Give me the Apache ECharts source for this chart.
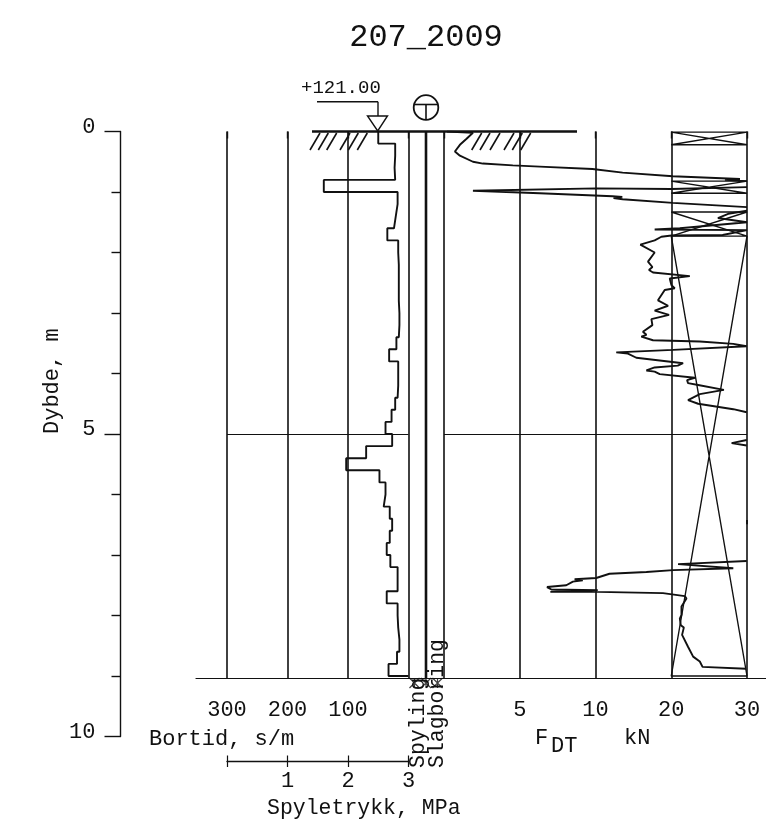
<!DOCTYPE html>
<html><head><meta charset="utf-8">
<style>html,body{margin:0;padding:0;background:#fff}#c{width:766px;height:837px}</style>
<script src="https://cdn.jsdelivr.net/npm/echarts@6/dist/echarts.min.js"></script>
</head><body><div id="c"></div>
<script>
// Bortid: boundaries of the 0.2 m intervals (m) and time per interval (s/m)
const bortidDepth = [0,0.2,0.4,0.6,0.8,1.0,1.2,1.4,1.6,1.8,2.0,2.2,2.4,2.6,2.8,3.0,3.2,3.4,3.6,3.8,4.0,4.2,4.4,4.6,4.8,5.0,5.2,5.4,5.6,5.8,6.0,6.2,6.4,6.6,6.8,7.0,7.2,7.4,7.6,7.8,8.0,8.2,8.4,8.6,8.8,9.0];
const bortidValues = [50,22,23,22,140,18,21,24,35,17,16,16,16,16,15,15,16,20,32,17,17,18,22,28,38,27,70,103,48,38,41,31,27,31,36,30,18,18,36,18,17,15,15,19,33];
// FDT curve: force (kN) and depth (m); null = off the 30 kN scale
const fdtForce = [0.2,1.91,1.49,1.05,0.72,1.05,1.91,2.57,4.54,6.32,9.8,13.58,20.2,29.07,27.09,30,null,
 30,20.03,10.13,1.91,1.91,6.32,12.25,13.54,12.38,13.58,20.2,30,null,
 30,27.52,26.16,30,21.13,17.81,30,26.78,20.03,18.7,17.81,15.92,17.81,16.93,17.51,17.06,17.59,22.45,19.8,20.03,20.46,19.14,18.25,19.58,17.81,19.71,17.38,17.51,16.26,16.72,16.05,17.59,23.77,28.19,29.96,20.24,12.74,14.28,15.39,21.56,20.86,17.81,16.72,17.81,18.48,23.11,22.09,22.22,23.55,23.77,26.95,23.77,22.22,23.55,28.19,29.96,null,
 29.96,27.97,29.96,null,
 30,29.74,30,null,
 29.96,20.9,28.19,20.24,16.72,11.85,10.09,8.62,9.16,8.51,8.07,6.8,7.09,10.3,7.02,10.3,18.91,21.79,22.01,21.35,21.35,21.13,21.26,21.66,21.43,22.23,22.89,23.77,24.13,29.87];
const fdtDepth = [0,0.02,0.12,0.22,0.33,0.40,0.50,0.53,0.56,0.58,0.62,0.68,0.74,0.785,0.80,0.82,null,
 0.92,0.95,0.94,0.98,0.99,1.02,1.07,1.08,1.10,1.12,1.18,1.25,null,
 1.31,1.36,1.43,1.50,1.60,1.62,1.63,1.71,1.72,1.74,1.80,1.87,2.00,2.15,2.24,2.29,2.33,2.39,2.43,2.54,2.59,2.62,2.79,2.88,2.96,3.03,3.10,3.20,3.31,3.36,3.39,3.45,3.47,3.51,3.55,3.61,3.65,3.67,3.74,3.83,3.87,3.90,3.95,3.97,4.01,4.07,4.11,4.16,4.19,4.22,4.27,4.34,4.44,4.50,4.59,4.64,null,
 5.10,5.15,5.19,null,
 6.42,6.45,6.49,null,
 7.10,7.15,7.22,7.25,7.28,7.31,7.38,7.40,7.42,7.44,7.50,7.53,7.57,7.58,7.61,7.61,7.63,7.68,7.72,7.85,7.99,8.05,8.16,8.20,8.32,8.52,8.68,8.76,8.85,8.88];
// Layer boxes with crosses (top, bottom depth in m) and force span in kN
const layerTop = [0.01,0.82,1.33,1.73];
const layerBottom = [0.22,1.02,1.73,9.0];
const layerForce = [20,30];
const forceTicks = [0,5,10,20,30];
const pressureTicks = [0,1,2,3];
const bortidTicks = [300,200,100,0];
const holeEnd = 9.033;
const FONT = '"Liberation Mono"';
const INK = '#111';

// The force axis has a broken scale: 0-10 kN takes the same length as 10-30 kN.
const fScale = k => k == null ? null : (k <= 10 ? k : 10 + (k - 10) / 2);

const bortidPts = [];
bortidValues.forEach((v, i) => { bortidPts.push([v, bortidDepth[i]], [v, bortidDepth[i + 1]]); });
bortidPts.push([0, bortidDepth[bortidDepth.length - 1]]);
const fdtPts = fdtForce.map((k, i) => [fScale(k), fdtDepth[i]]);
const layerPts = [];
layerTop.forEach((t, i) => {
  const a = fScale(layerForce[0]), b = fScale(layerForce[1]), e = layerBottom[i];
  layerPts.push([a, t], [b, t], [a, e], [b, e], [a, t], [null, null]);
});

const chart = echarts.init(document.getElementById('c'), null, {renderer: 'canvas'});
const top0 = 131.5;
const pxM = 60.5;
const plotH = holeEnd * pxM;
const depthY = (grid, max, extra) => Object.assign({gridIndex: grid, type: 'value', inverse: true, min: 0, max: max, interval: 5,
  axisLine: {show: false}, axisTick: {show: false}, axisLabel: {show: false},
  splitLine: {show: false}}, extra || {});
const gridLine = {show: true, lineStyle: {color: INK, width: 1.6}};
const hLine = {show: true, showMinLine: false, showMaxLine: false, lineStyle: {color: INK, width: 1}};
const lbl = {fontFamily: FONT, fontSize: 22, color: INK};
const noSplit = {show: false};

const txt = (text, x, y, size, opts) => ({type: 'text', x: x, y: y, rotation: (opts && opts.rot) || 0, z: 20, silent: true,
  style: {text: text, font: size + 'px ' + FONT, fill: INK, textAlign: (opts && opts.align) || 'left', textVerticalAlign: 'middle'}});
const seg = (x1, y1, x2, y2, w) => ({type: 'line', z: 15, silent: true, shape: {x1, y1, x2, y2}, style: {stroke: INK, lineWidth: w || 1.4}});

const hatches = [310,318.3,326.7,340,348.3,357.3,471.7,480,490,504,512.3,520.7].map(x => seg(x, 150, x + 10, 133, 1.6));

chart.setOption({
  animation: false,
  backgroundColor: '#fff',
  grid: [
    {left: 120.5, top: top0, width: 1, height: 605},           // depth ruler
    {left: 227, top: top0, width: 181.5, height: plotH},       // bortid
    {left: 444, top: top0, width: 303, height: plotH},         // force
    {left: 196, top: top0, width: 570, height: plotH},         // base line
    {left: 408, top: top0, width: 36, height: 605},            // method column
    {left: 227, top: 755.5, width: 181.5, height: 5.5}         // pressure
  ],
  xAxis: [
    {gridIndex: 0, type: 'value', show: false, min: 0, max: 1},
    {gridIndex: 1, type: 'value', inverse: true, min: 0, max: 300, interval: 100, position: 'bottom',
      axisLine: {show: false}, axisTick: {show: true, length: 7, lineStyle: {color: INK, width: 1.4}},
      axisLabel: Object.assign({margin: 21, formatter: v => v === 0 ? '' : String(v)}, lbl), splitLine: gridLine},
    {gridIndex: 2, type: 'value', min: 0, max: 20, interval: 5, position: 'bottom',
      axisLine: {show: false}, axisTick: {show: true, length: 7, lineStyle: {color: INK, width: 1.4}},
      axisLabel: Object.assign({margin: 21, showMaxLabel: true, formatter: v => ({5: '5', 10: '10', 15: '20', 20: '30'})[v] || ''}, lbl), splitLine: gridLine},
    {gridIndex: 3, type: 'value', min: 0, max: 1, position: 'bottom', axisLine: {show: true, onZero: false, lineStyle: {color: INK, width: 1.2}},
      axisTick: {show: false}, axisLabel: {show: false}, splitLine: noSplit},
    {gridIndex: 4, type: 'value', show: false, min: 0, max: 1},
    {gridIndex: 5, type: 'value', min: 0, max: 3, interval: 1, position: 'bottom', axisLine: {show: true, onZero: false, lineStyle: {color: INK, width: 1.4}},
      axisTick: {show: true, length: 6, lineStyle: {color: INK, width: 1.2}},
      axisLabel: Object.assign({margin: 9, formatter: v => v === 0 ? '' : String(v)}, lbl), splitLine: {show: true, lineStyle: {color: INK, width: 1.2}}}
  ],
  yAxis: [
    depthY(0, 10, {axisLine: {show: true, onZero: false, lineStyle: {color: INK, width: 1.4}},
      axisTick: {show: true, length: 16, lineStyle: {color: INK, width: 1.4}},
      minorTick: {show: true, splitNumber: 5, length: 9, lineStyle: {color: INK, width: 1.4}},
      axisLabel: Object.assign({show: true, margin: 25, verticalAlign: 'bottom', lineHeight: 9}, lbl)}),
    depthY(1, holeEnd, {splitLine: hLine}),
    depthY(2, holeEnd, {splitLine: hLine}),
    depthY(3, holeEnd),
    depthY(4, 10),
    {gridIndex: 5, type: 'value', show: false, min: 0, max: 1}
  ],
  series: [
    {type: 'line', name: 'Bortid', xAxisIndex: 1, yAxisIndex: 1, data: bortidPts, showSymbol: false, clip: false, lineStyle: {color: INK, width: 1.9}},
    {type: 'line', name: 'Lag', xAxisIndex: 2, yAxisIndex: 2, data: layerPts, showSymbol: false, connectNulls: false, lineStyle: {color: INK, width: 1.4}},
    {type: 'line', name: 'FDT', xAxisIndex: 2, yAxisIndex: 2, data: fdtPts, showSymbol: false, connectNulls: false, lineStyle: {color: INK, width: 1.9}},
    {type: 'line', name: 'Spyling/Slagboring', xAxisIndex: 4, yAxisIndex: 4, data: [[0.5, 0], [0.5, holeEnd]], showSymbol: false, lineStyle: {color: INK, width: 2.6}},
    {type: 'scatter', name: 'Start', xAxisIndex: 4, yAxisIndex: 4, data: [[0.18, 9.116], [0.5, 9.116], [0.82, 9.116]], symbol: 'path://M0 0L10 10M10 0L0 10M5 0L5 10', symbolSize: 10, itemStyle: {color: 'none', borderColor: INK, borderWidth: 1.2}}
  ],
  graphic: [
    txt('207_2009', 426, 38, 32, {align: 'center'}),
    txt('+121.00', 301, 88, 19),
    txt('Dybde, m', 52, 434, 22, {rot: Math.PI / 2}),
    txt('Bortid, s/m', 149, 739, 22),
    txt('Spyletrykk, MPa', 267, 808, 21.5),
    txt('Spyling', 418, 768, 21.5, {rot: Math.PI / 2}),
    txt('Slagboring', 437, 768, 21.5, {rot: Math.PI / 2}),
    txt('F', 535, 738, 22),
    txt('DT', 551, 746, 22),
    txt('kN', 624, 738, 22),
    seg(312, 131.5, 577, 131.5, 2.6),
    seg(317, 101.7, 378, 101.7),
    seg(378, 101.7, 378, 116),
    {type: 'polygon', z: 15, silent: true, shape: {points: [[367.5, 116], [387.5, 116], [377.7, 131]]}, style: {fill: '#fff', stroke: INK, lineWidth: 1.4}},
    {type: 'circle', z: 15, silent: true, shape: {cx: 426, cy: 107.5, r: 12.3}, style: {fill: '#fff', stroke: INK, lineWidth: 1.8}},
    seg(414, 104.5, 438, 104.5, 1.6),
    seg(426, 104.5, 426, 119.5, 1.6)
  ].concat(hatches)
});
</script></body></html>
